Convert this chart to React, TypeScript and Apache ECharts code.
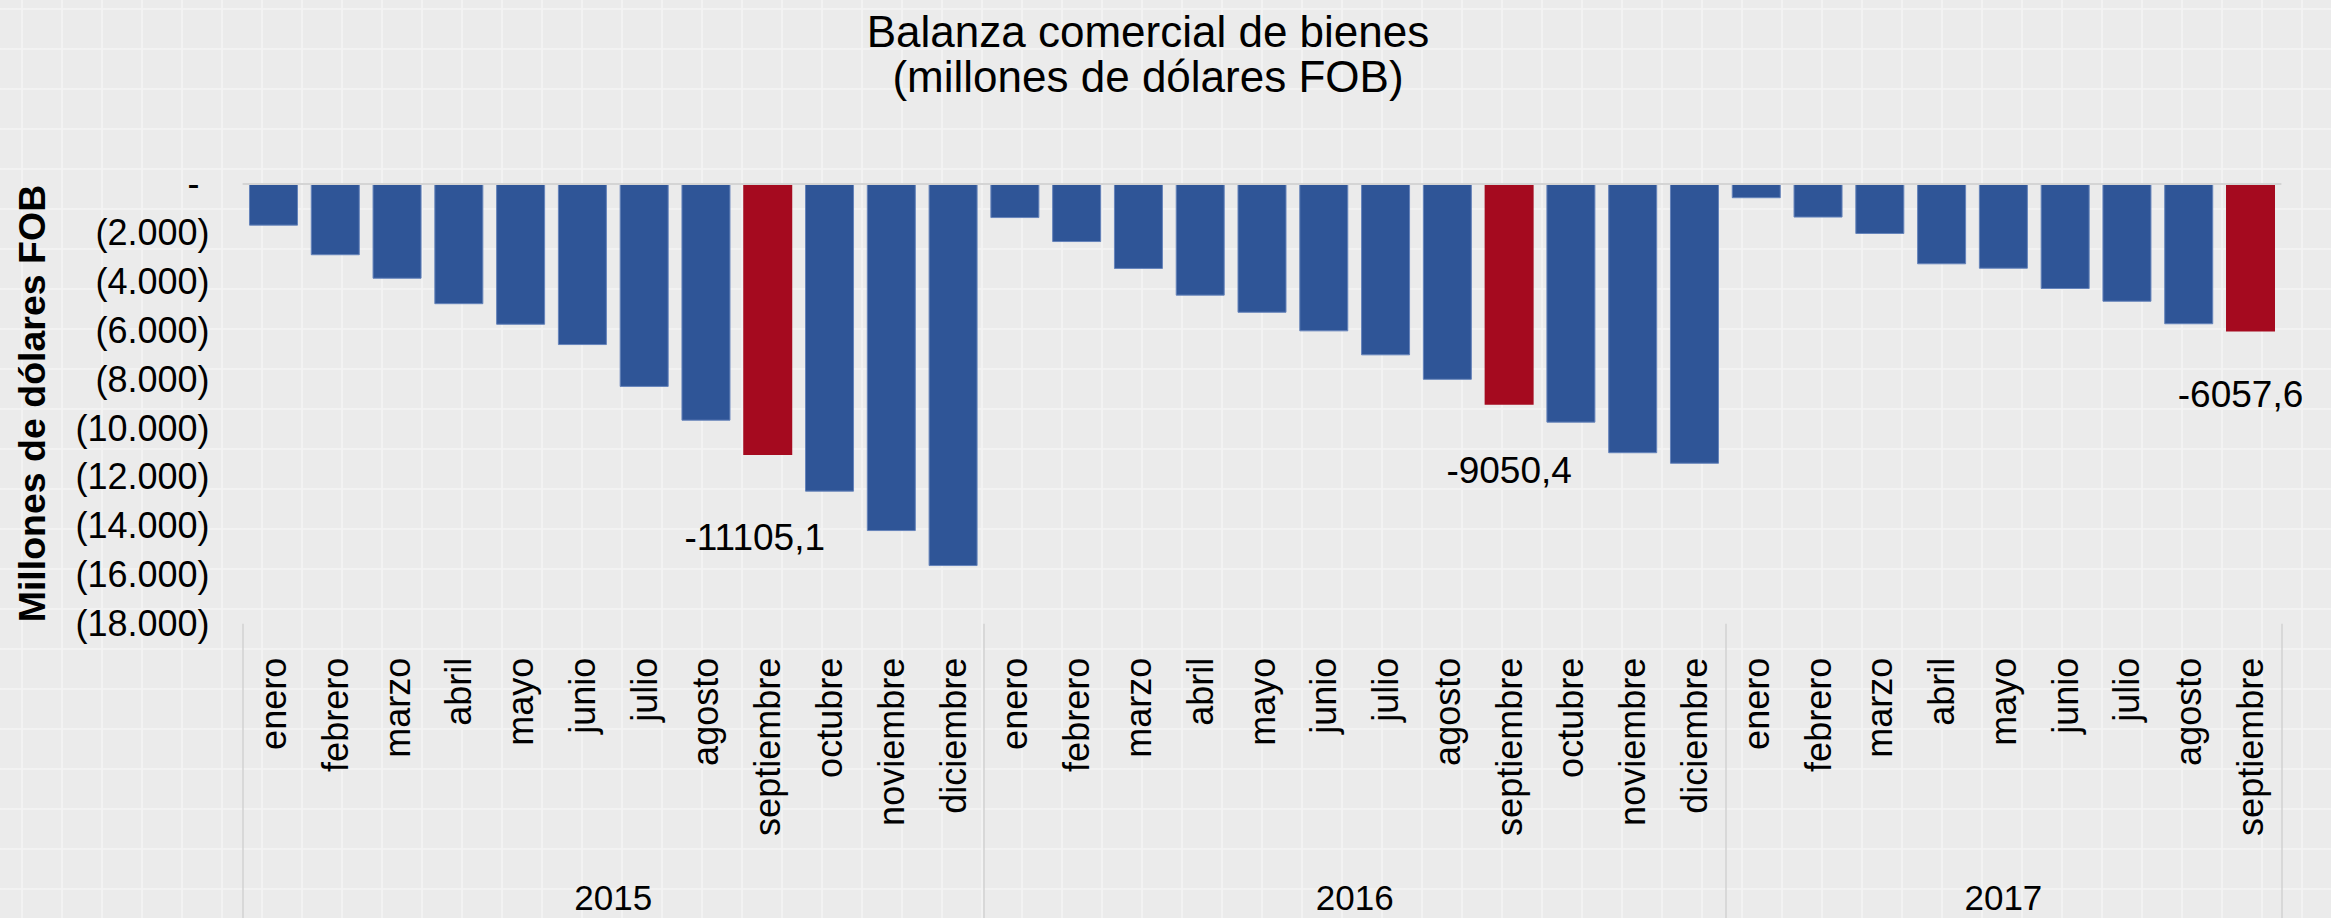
import React, { useEffect, useRef } from "react";
import * as echarts from "echarts";

// ---- data ----
const years = ["2015", "2016", "2017"];
const months2015 = ["enero", "febrero", "marzo", "abril", "mayo", "junio", "julio", "agosto", "septiembre", "octubre", "noviembre", "diciembre"];
const months2016 = ["enero", "febrero", "marzo", "abril", "mayo", "junio", "julio", "agosto", "septiembre", "octubre", "noviembre", "diciembre"];
const months2017 = ["enero", "febrero", "marzo", "abril", "mayo", "junio", "julio", "agosto", "septiembre"];
const values2015 = [-1730, -2940, -3900, -4940, -5780, -6610, -8320, -9700, -11105.1, -12600, -14210, -15640];
const values2016 = [-1420, -2400, -3500, -4590, -5290, -6050, -7030, -8030, -9050.4, -9780, -11030, -11460];
const values2017 = [-610, -1400, -2070, -3310, -3490, -4320, -4840, -5760, -6057.6];
const highlightMonth = "septiembre";
const yMin = -18000;
const yMax = 0;
const yStep = 2000;

// ---- styling ----
const FONT = "Arial, 'Liberation Sans', sans-serif";
const BLUE = "#2F5597";
const RED = "#A50A1F";
// label shifts [dx, distance] for each highlighted bar, in order
const labelShift: [number, number][] = [
  [-13, 64],
  [0, 47],
  [-10, 44],
];

export default function App() {
  const ref = useRef<HTMLDivElement>(null);

  useEffect(() => {
    if (!ref.current) return;
    const chart = echarts.init(ref.current, undefined, { renderer: "svg" });

    const monthGroups = [months2015, months2016, months2017];
    const valueGroups = [values2015, values2016, values2017];
    const categories: string[] = [];
    const values: number[] = [];
    monthGroups.forEach((g, i) => {
      g.forEach((m, j) => {
        categories.push(m);
        values.push(valueGroups[i][j]);
      });
    });

    // year boundaries and centres on a 0..N value axis
    const bounds: number[] = [0];
    const centres: number[] = [];
    monthGroups.forEach((g) => {
      const start = bounds[bounds.length - 1];
      centres.push(start + g.length / 2);
      bounds.push(start + g.length);
    });

    let h = 0;
    const barData = values.map((v, i) => {
      if (categories[i] === highlightMonth) {
        const s = labelShift[h++] || [0, 40];
        return {
          value: v,
          itemStyle: { color: RED, borderWidth: 0 },
          label: {
            show: true,
            position: "outside",
            distance: s[1],
            offset: [s[0], 0],
            formatter: (p: any) => Number(p.value).toFixed(1).replace(".", ","),
            fontSize: 37,
            fontFamily: FONT,
            color: "#000",
          },
        };
      }
      return { value: v };
    });

    chart.setOption({
      animation: false,
      backgroundColor: "transparent",
      title: {
        text: "Balanza comercial de bienes\n(millones de dólares FOB)",
        left: 1143,
        top: 4,
        textAlign: "center",
        textStyle: {
          fontSize: 44,
          fontWeight: "normal",
          lineHeight: 45,
          color: "#000",
          fontFamily: FONT,
        },
      },
      grid: { left: 242.6, right: 49.6, top: 183.3, bottom: 294.2, containLabel: false },
      xAxis: [
        {
          type: "category",
          data: categories,
          position: "bottom",
          axisLine: { show: false },
          axisTick: { show: false },
          splitLine: { show: false },
          axisLabel: {
            interval: 0,
            rotate: 90,
            margin: 34,
            fontSize: 36,
            color: "#000",
            fontFamily: FONT,
          },
        },
        {
          type: "value",
          min: 0,
          max: bounds[bounds.length - 1],
          position: "bottom",
          offset: 0,
          axisLine: { show: false },
          splitLine: { show: false },
          axisTick: {
            show: true,
            customValues: bounds,
            length: 296,
            lineStyle: { color: "#d2d2d2", width: 1.5 },
          },
          axisLabel: {
            show: true,
            customValues: centres,
            margin: 256,
            fontSize: 35,
            color: "#000",
            fontFamily: FONT,
            formatter: (v: number) => {
              const idx = centres.findIndex((c) => Math.abs(c - v) < 1e-6);
              return idx >= 0 ? years[idx] : "";
            },
          },
        },
      ],
      yAxis: {
        type: "value",
        min: yMin,
        max: yMax,
        interval: yStep,
        axisLine: { show: false },
        axisTick: { show: false },
        splitLine: { show: false },
        name: "Millones de dólares FOB",
        nameLocation: "middle",
        nameGap: 192,
        nameTextStyle: {
          fontSize: 37.5,
          fontWeight: "bold",
          color: "#000",
          fontFamily: FONT,
        },
        axisLabel: {
          margin: 33,
          fontSize: 36,
          color: "#000",
          fontFamily: FONT,
          formatter: (v: number) => {
            if (v === 0) return "-\u00a0";
            const s = Math.abs(v).toString().replace(/\B(?=(\d{3})+(?!\d))/g, ".");
            return v < 0 ? "(" + s + ")" : s;
          },
        },
      },
      series: [
        {
          type: "bar",
          xAxisIndex: 0,
          yAxisIndex: 0,
          data: barData,
          barCategoryGap: "20.7%",
          itemStyle: { color: BLUE, borderColor: "#6583ba", borderWidth: 1 },
          markLine: {
            silent: true,
            symbol: ["none", "none"],
            label: { show: false },
            lineStyle: { color: "#d4d4d4", width: 2, type: "solid" },
            data: [{ yAxis: 0 }],
          },
        },
      ],
    });

    return () => chart.dispose();
  }, []);

  return (
    <div
      ref={ref}
      style={{
        position: "absolute",
        left: 0,
        top: 0,
        width: 2331,
        height: 918,
        backgroundColor: "#ebebeb",
        backgroundImage:
          "linear-gradient(to right, rgba(243,243,243,0.9) 2px, transparent 2px), linear-gradient(to bottom, rgba(243,243,243,0.9) 2px, transparent 2px)",
        backgroundSize: "40px 40px",
        backgroundPosition: "21px 8px",
      }}
    />
  );
}
